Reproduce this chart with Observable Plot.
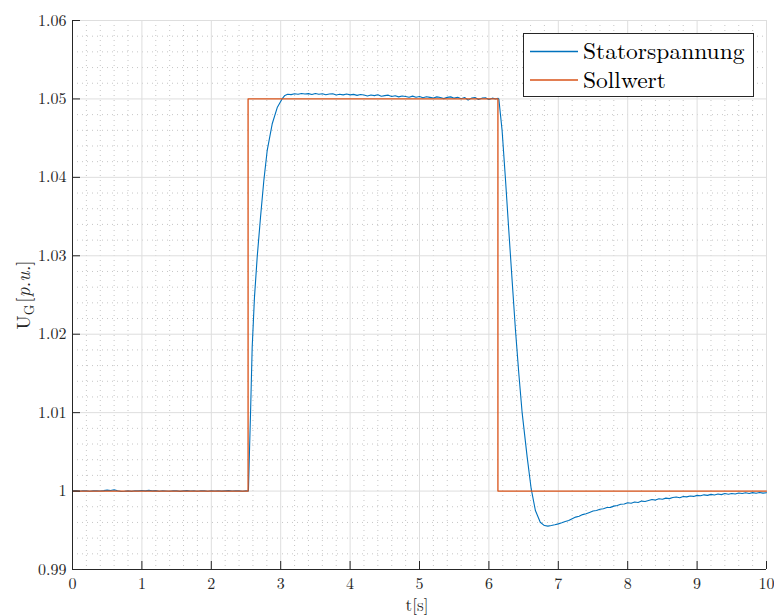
<!DOCTYPE html>
<html><head><meta charset="utf-8">
<script src="https://cdn.jsdelivr.net/npm/d3@7"></script>
<script src="https://cdn.jsdelivr.net/npm/@observablehq/plot@0.6"></script>
<style>
body{margin:0;background:#fff;}
#wrap{position:relative;width:774px;height:615px;font-family:'Latin Modern Roman','Liberation Serif',serif;}
#legend{position:absolute;left:523px;top:33px;width:229px;height:62px;border:1px solid #262626;background:#fff;}
</style></head><body><div id="wrap"></div>
<script>
// ---- data ----
const seriesNames = ["Statorspannung", "Sollwert"];
const xTicks = [0,1,2,3,4,5,6,7,8,9,10];
const yTicks = [0.99,1.00,1.01,1.02,1.03,1.04,1.05,1.06];
const yTickLabels = ["0.99","1","1.01","1.02","1.03","1.04","1.05","1.06"];

// Sollwert (step-after)
const sollT = [0, 2.53, 6.13, 10];
const sollU = [1.00, 1.05, 1.00, 1.00];

// Statorspannung, segment before the first step
const statorPre = [
[0.00,1.00000],[0.05,1.00005],[0.10,0.99997],[0.15,1.00004],[0.20,1.00002],[0.25,0.99998],[0.30,1.00003],[0.35,1.00005],
[0.40,1.00001],[0.45,1.00006],[0.50,1.00012],[0.55,1.00008],[0.60,1.00015],[0.65,1.00004],[0.70,0.99995],[0.75,0.99998],
[0.80,1.00003],[0.85,0.99996],[0.90,1.00005],[0.95,1.00002],[1.00,1.00008],[1.05,1.00003],[1.10,1.00009],[1.15,1.00002],
[1.20,1.00006],[1.25,0.99998],[1.30,1.00004],[1.35,1.00001],[1.40,0.99997],[1.45,1.00005],[1.50,1.00002],[1.55,0.99996],
[1.60,1.00003],[1.65,1.00006],[1.70,1.00001],[1.75,1.00004],[1.80,0.99998],[1.85,1.00005],[1.90,1.00002],[1.95,0.99997],
[2.00,1.00004],[2.05,1.00001],[2.10,1.00005],[2.15,0.99999],[2.20,1.00003],[2.25,1.00006],[2.30,1.00000],[2.35,1.00004],
[2.40,1.00002],[2.45,0.99998],[2.50,1.00003],[2.535,1.00001]
];
// rise after the first step
const statorRise = [
[2.55,1.0050],[2.565,1.0098],[2.589,1.0183],[2.622,1.0247],[2.661,1.0298],[2.709,1.0349],[2.757,1.0396],
[2.805,1.0434],[2.877,1.0468],[2.95,1.0489],[3.02,1.0500],[3.06,1.05045]
];
// plateau at 1.05
const statorTop = [
[3.10,1.05060],[3.15,1.05055],[3.20,1.05066],[3.25,1.05060],[3.30,1.05070],[3.35,1.05062],[3.40,1.05068],[3.45,1.05056],
[3.50,1.05070],[3.55,1.05060],[3.60,1.05066],[3.65,1.05054],[3.70,1.05062],[3.75,1.05066],[3.80,1.05050],[3.85,1.05060],
[3.90,1.05052],[3.95,1.05062],[4.00,1.05052],[4.05,1.05058],[4.10,1.05045],[4.15,1.05056],[4.20,1.05050],[4.25,1.05038],
[4.30,1.05050],[4.35,1.05042],[4.40,1.05054],[4.45,1.05034],[4.50,1.05042],[4.55,1.05048],[4.60,1.05032],[4.65,1.05040],
[4.70,1.05026],[4.75,1.05038],[4.80,1.05030],[4.85,1.05022],[4.90,1.05036],[4.95,1.05022],[5.00,1.05030],[5.05,1.05015],
[5.10,1.05028],[5.15,1.05020],[5.20,1.05012],[5.25,1.05026],[5.30,1.05018],[5.35,1.05004],[5.40,1.05020],[5.45,1.05026],
[5.50,1.05010],[5.55,1.05020],[5.60,1.05002],[5.65,1.05018],[5.70,1.04985],[5.75,1.05010],[5.80,1.05018],[5.85,1.04994],
[5.90,1.05010],[5.95,1.05016],[6.00,1.04994],[6.05,1.05010],[6.10,1.05000],[6.13,1.05008]
];
// fall after the second step
const statorFall = [
[6.143,1.0500],[6.19,1.0460],[6.24,1.0396],[6.287,1.0332],[6.335,1.0268],[6.383,1.0205],[6.431,1.0150],
[6.48,1.0099],[6.552,1.0043],[6.609,1.0003],[6.67,0.99752],[6.74,0.99603],[6.80,0.99560]
];
// recovery to 1.0
const statorTail = [
[6.85,0.99553],[6.90,0.99560],[6.95,0.99570],[7.00,0.99582],[7.05,0.99596],[7.10,0.99612],[7.15,0.99625],[7.20,0.99648],
[7.25,0.99668],[7.30,0.99680],[7.35,0.99700],[7.40,0.99712],[7.45,0.99728],[7.50,0.99745],[7.55,0.99752],[7.60,0.99768],
[7.65,0.99775],[7.70,0.99790],[7.75,0.99792],[7.80,0.99808],[7.85,0.99815],[7.90,0.99832],[7.95,0.99835],[8.00,0.99852],
[8.05,0.99845],[8.10,0.99860],[8.15,0.99855],[8.20,0.99872],[8.25,0.99868],[8.30,0.99880],[8.35,0.99892],[8.40,0.99885],
[8.45,0.99902],[8.50,0.99895],[8.55,0.99910],[8.60,0.99904],[8.65,0.99918],[8.70,0.99925],[8.75,0.99915],[8.80,0.99930],
[8.85,0.99926],[8.90,0.99938],[8.95,0.99932],[9.00,0.99945],[9.05,0.99940],[9.10,0.99952],[9.15,0.99945],[9.20,0.99958],
[9.25,0.99950],[9.30,0.99962],[9.35,0.99955],[9.40,0.99968],[9.45,0.99960],[9.50,0.99970],[9.55,0.99962],[9.60,0.99975],
[9.65,0.99968],[9.70,0.99978],[9.75,0.99970],[9.80,0.99980],[9.85,0.99972],[9.90,0.99982],[9.95,0.99974],[10.0,0.99978]
];

// ---- build tables ----
const stator = [...statorPre, ...statorRise, ...statorTop, ...statorFall, ...statorTail].map(([t,u]) => ({t, u}));
const soll = sollT.map((t,i) => ({t, u: sollU[i]}));
const xMinor = d3.range(0, 10.0001, 0.2).filter(v => Math.abs(v - Math.round(v)) > 1e-6);
const yMinor = d3.range(0.99, 1.0600001, 0.002).filter(v => Math.abs(v*100 - Math.round(v*100)) > 1e-6);

const blue = "#0072BD", red = "#D95319", axisCol = "#262626";
const font = "'Latin Modern Roman', 'Liberation Serif', serif";

const svg = Plot.plot({
  width: 774, height: 615,
  marginLeft: 72, marginRight: 8, marginTop: 20, marginBottom: 46,
  style: {fontFamily: font, fontSize: "16px", color: axisCol, background: "#fff"},
  x: {domain: [0, 10], label: null},
  y: {domain: [0.99, 1.06], label: null},
  marks: [
    Plot.gridX(xMinor, {stroke: "#b8b8b8", strokeOpacity: 1, strokeDasharray: "1,4", strokeWidth: 0.8}),
    Plot.gridY(yMinor, {stroke: "#b8b8b8", strokeOpacity: 1, strokeDasharray: "1,4", strokeWidth: 0.8}),
    Plot.gridX(xTicks, {stroke: "#dedede", strokeOpacity: 1}),
    Plot.gridY(yTicks, {stroke: "#dedede", strokeOpacity: 1}),
    Plot.line(stator, {x: "t", y: "u", stroke: blue, strokeWidth: 1.1}),
    Plot.line(soll, {x: "t", y: "u", stroke: red, strokeWidth: 1.3, curve: "step-after"}),
    Plot.ruleX([0], {stroke: axisCol, strokeWidth: 1}),
    Plot.ruleY([0.99], {stroke: axisCol, strokeWidth: 1}),
    Plot.axisX(xTicks, {tickSize: -8, tickPadding: 16, label: null, stroke: axisCol, fill: axisCol, fontSize: 16}),
    Plot.axisY(yTicks, {tickSize: -8, tickPadding: 14, label: null, stroke: axisCol, fill: axisCol, fontSize: 16,
      tickFormat: d => yTickLabels[yTicks.indexOf(d)]})
  ]
});

const s = d3.select(svg);
s.selectAll("text").attr("font-family", font);
// x label
s.append("text").attr("x", 417).attr("y", 611).attr("text-anchor", "middle")
  .attr("font-family", font).attr("font-size", 17).attr("fill", "#262626").text("t[s]");
// y label
const yl = s.append("text").attr("transform", "translate(30,295) rotate(-90)").attr("text-anchor", "middle")
  .attr("font-family", font).attr("font-size", 19).attr("fill", axisCol);
yl.append("tspan").text("U");
yl.append("tspan").attr("dy", 4).attr("font-size", 13.5).text("G");
yl.append("tspan").attr("dy", -4).attr("dx", 2).text("[");
yl.append("tspan").attr("font-style", "italic").text("p.u.");
yl.append("tspan").text("]");

const wrap = document.getElementById("wrap");
wrap.appendChild(svg);

// legend (drawn as SVG inside a bordered box)
const leg = document.createElement("div");
leg.id = "legend";
const colors = [blue, red];
const lsvg = d3.select(leg).append("svg").attr("width", 229).attr("height", 62).style("display", "block");
seriesNames.forEach((name, i) => {
  const cy = 17.5 + i * 28.6;
  lsvg.append("line").attr("x1", 6).attr("x2", 54).attr("y1", cy).attr("y2", cy)
    .attr("stroke", colors[i]).attr("stroke-width", 1.5);
  lsvg.append("text").attr("x", 59).attr("y", cy + 7.5).attr("font-family", font)
    .attr("font-size", 23.5).attr("fill", "#000").text(name);
});
wrap.appendChild(leg);
</script>
</body></html>
